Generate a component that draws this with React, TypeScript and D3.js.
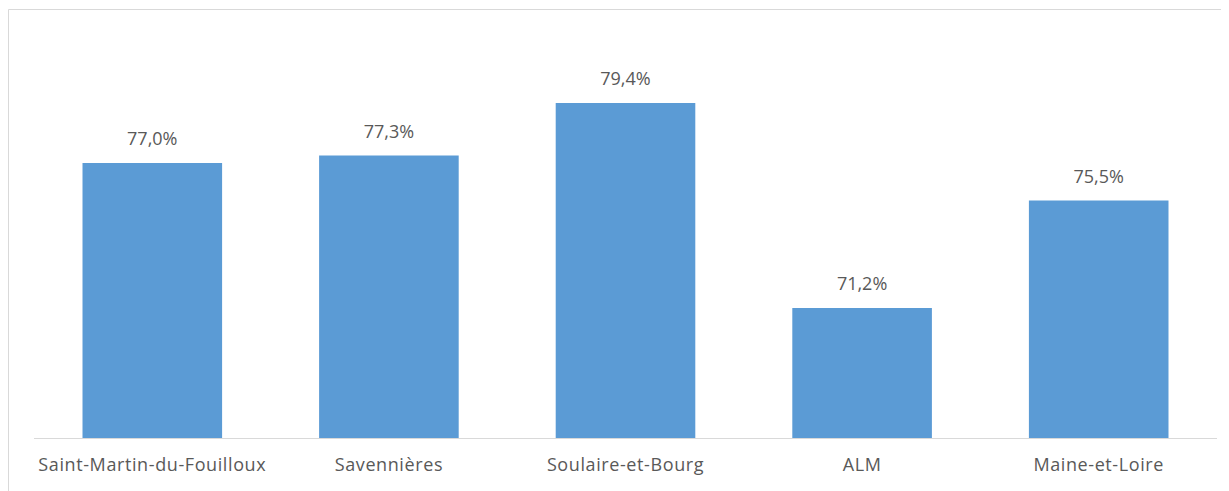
import React from "react";
import * as d3 from "d3";

const categories = ["Saint-Martin-du-Fouilloux", "Savennières", "Soulaire-et-Bourg", "ALM", "Maine-et-Loire"];
const values = [77.0, 77.3, 79.4, 71.2, 75.5];
const yDomain = [66, 82];

const W = 1221;
const H = 483;

export default function App() {
  const ox = 8, oy = 8;
  const x = d3.scaleBand<string>().domain(categories).range([34 - ox, 1217 - ox]).paddingInner(0.41).paddingOuter(0.205);
  const y = d3.scaleLinear().domain(yDomain).range([438 - oy, 38 - oy]);
  const fmt = (v: number) => v.toFixed(1).replace(".", ",") + "%";
  const font = "'Open Sans', 'Noto Sans', sans-serif";
  return (
    <svg width={W} height={H} style={{ display: "block" }}>
      <rect x={0} y={0} width={W} height={H} fill="#fff" />
      <line x1={0.5} y1={1.5} x2={W} y2={1.5} stroke="#d9d9d9" strokeWidth={1} />
      <line x1={0.5} y1={1.5} x2={0.5} y2={H} stroke="#d9d9d9" strokeWidth={1} />
      {categories.map((c, i) => (
        <g key={c}>
          <rect x={x(c)!} y={y(values[i])} width={x.bandwidth()} height={y(yDomain[0]) - y(values[i])} fill="#5B9BD5" />
          <text x={x(c)! + x.bandwidth() / 2} y={y(values[i]) - 18} textAnchor="middle" fontFamily={font} fontSize={18} fill="#595959">
            {fmt(values[i])}
          </text>
          <text x={x(c)! + x.bandwidth() / 2} y={471 - oy} textAnchor="middle" fontFamily={font} fontSize={18} letterSpacing={0.6} fill="#595959">
            {c}
          </text>
        </g>
      ))}
      <line x1={34 - ox} x2={1217 - ox} y1={y(yDomain[0]) + 0.5} y2={y(yDomain[0]) + 0.5} stroke="#d9d9d9" strokeWidth={1} />
    </svg>
  );
}
